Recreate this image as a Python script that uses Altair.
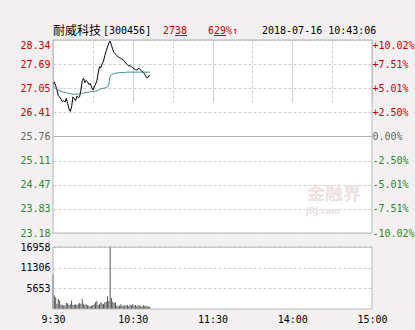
import json
import altair as alt
import pandas as pd

# ---------------- data ----------------
minutes = list(range(74))  # minutes after 9:30
price = [27.15, 27.22, 27.12, 27.00, 26.85, 26.82, 26.76, 26.69, 26.72, 26.68,
         26.78, 26.65, 26.50, 26.43, 26.55, 26.82, 26.78, 26.72, 26.84, 26.80,
         26.82, 27.00, 27.25, 27.32, 27.20, 27.26, 27.22, 27.15, 27.18, 27.09,
         27.00, 27.08, 27.16, 27.25, 27.45, 27.63, 27.60, 27.70, 27.78, 27.92,
         28.05, 28.15, 28.26, 28.31, 28.20, 28.08, 28.00, 27.96, 27.92, 27.89,
         27.87, 27.85, 27.82, 27.80, 27.76, 27.72, 27.68, 27.64, 27.66, 27.62,
         27.60, 27.57, 27.55, 27.54, 27.57, 27.58, 27.53, 27.50, 27.48, 27.42,
         27.36, 27.32, 27.38, 27.39]
avg = [27.10, 27.07, 27.04, 27.02, 27.00, 26.99, 26.97, 26.96, 26.95, 26.94,
       26.93, 26.92, 26.91, 26.90, 26.90, 26.89, 26.89, 26.89, 26.89, 26.90,
       26.90, 26.90, 26.91, 26.92, 26.93, 26.94, 26.94, 26.95, 26.95, 26.96,
       26.96, 26.96, 26.97, 26.98, 27.00, 27.02, 27.03, 27.04, 27.05, 27.06,
       27.07, 27.09, 27.15, 27.38, 27.41, 27.43, 27.44, 27.45, 27.46, 27.46,
       27.47, 27.47, 27.47, 27.47, 27.47, 27.48, 27.48, 27.48, 27.48, 27.48,
       27.48, 27.48, 27.48, 27.48, 27.48, 27.48, 27.48, 27.48, 27.48, 27.48,
       27.48, 27.48, 27.48, 27.48]
volume = [9400, 3700, 3200, 1400, 2750, 2300, 1200, 1100, 920, 1000,
          1650, 1550, 1100, 1290, 2300, 1100, 1200, 1290, 1100, 1290,
          1660, 1400, 2770, 1500, 1100, 1290, 1000, 920, 740, 920,
          1100, 1290, 1840, 2210, 1100, 1290, 1840, 1500, 1290, 1840,
          2000, 3500, 2210, 16900, 2950, 2000, 1660, 1840, 920, 740,
          920, 1290, 920, 740, 1100, 920, 1100, 740, 1200, 1000,
          1290, 920, 1100, 740, 1100, 740, 920, 650, 1100, 800,
          920, 650, 700, 600]

pre_close = 25.76
price_ticks = [28.34, 27.69, 27.05, 26.41, 25.76, 25.11, 24.47, 23.83, 23.18]
pct_labels = ["+10.02%", "+7.51%", "+5.01%", "+2.50%", "0.00%",
              "-2.50%", "-5.01%", "-7.51%", "-10.02%"]
vol_ticks = [5653, 11306, 16958]
time_ticks = [0, 30, 60, 90, 120, 150, 180, 210, 240]
time_label_pos = [0, 60, 120, 180, 240]
time_labels = ["9:30", "10:30", "11:30", "14:00", "15:00"]

title_name = "耐威科技"
title_code = "[300456]"
cur_price_txt = "2738"
cur_pct_txt = "629%↑"
stamp = "2018-07-16 10:43:06"

df = pd.DataFrame({"m": minutes, "price": price, "avg": avg, "vol": volume})
one = pd.DataFrame({"k": [0]})

# ---------------- styling ----------------
W, H = 319, 269
TOP_H = 193
VOL_TOP = 207
BG = "#f2f0f0"
RED = "#cc0000"
GREEN = "#2a8a2a"
GREY = "#666666"
GRID = "#d0d0d0"
MONO = "DejaVu Sans Mono"

label_color = {
    "condition": [
        {"test": f"datum.value > {pre_close + 0.001}", "value": RED},
        {"test": f"datum.value < {pre_close - 0.001}", "value": GREEN},
    ],
    "value": GREY,
}
label_baseline = {"condition": {"test": f"datum.value >= {max(price_ticks) - 0.001}",
                                "value": "top"}, "value": "middle"}

x_label_expr = ("indexof(%s, datum.value) >= 0 ? %s[indexof(%s, datum.value)] : ''"
                % (json.dumps(time_label_pos), json.dumps(time_labels), json.dumps(time_label_pos)))

x_enc = alt.X("m:Q",
              scale=alt.Scale(domain=[0, 240], nice=False, zero=False),
              axis=alt.Axis(values=time_ticks, labelExpr=x_label_expr, title=None,
                            grid=True, ticks=False, domain=False, labelFlush=False,
                            labelPadding=5, labelColor="#000000",
                            gridColor=GRID,
                            gridDash={"condition": {"test": "datum.value % 60 == 0", "value": []},
                                      "value": [3, 2]}))

price_scale = alt.Scale(domain=[min(price_ticks), max(price_ticks)], range=[TOP_H, 0],
                        nice=False, zero=False)

price_line = alt.Chart(df).mark_line(color="#000000", strokeWidth=1).encode(
    x=x_enc,
    y=alt.Y("price:Q", scale=price_scale,
            axis=alt.Axis(orient="left", values=price_ticks, title=None, format=".2f",
                          ticks=False, domain=False, labelPadding=3,
                          labelColor=label_color, labelBaseline=label_baseline,
                          grid=True,
                          gridColor={"condition": {"test": f"abs(datum.value - {pre_close}) < 0.001",
                                                   "value": "#b0b0b0"}, "value": GRID},
                          gridDash={"condition": {"test": f"abs(datum.value - {pre_close}) < 0.001",
                                                  "value": []}, "value": [3, 2]})),
)

pct_expr = "%s[indexof(%s, datum.value)]" % (json.dumps(pct_labels), json.dumps(price_ticks))
avg_line = alt.Chart(df).mark_line(color="#3d8b8b", strokeWidth=1).encode(
    x=x_enc,
    y=alt.Y("avg:Q", scale=price_scale,
            axis=alt.Axis(orient="right", values=price_ticks, title=None, labelExpr=pct_expr,
                          ticks=False, domain=False, labelPadding=0, grid=False,
                          labelColor=label_color, labelBaseline=label_baseline)),
)

vol_bars = alt.Chart(df).mark_rule(color="#555555", strokeWidth=1).encode(
    x=x_enc,
    y=alt.Y("vol:Q",
            scale=alt.Scale(domain=[0, max(vol_ticks)], range=[H, VOL_TOP], nice=False, zero=True),
            axis=alt.Axis(orient="left", values=vol_ticks, title=None, format="d",
                          ticks=False, domain=False, labelPadding=3, labelColor="#000000",
                          grid=True, gridColor=GRID, gridDash=[3, 2])),
    y2=alt.datum(0),
)

gap = alt.Chart(one).mark_rect(fill=BG).encode(
    x=alt.value(-1), x2=alt.value(W + 1), y=alt.value(TOP_H + 0.5), y2=alt.value(VOL_TOP - 0.5))

frame_top = alt.Chart(one).mark_rect(fillOpacity=0, stroke="#b4b4b4", strokeWidth=1).encode(
    x=alt.value(0), x2=alt.value(W), y=alt.value(0), y2=alt.value(TOP_H))
frame_vol = alt.Chart(one).mark_rect(fillOpacity=0, stroke="#b4b4b4", strokeWidth=1).encode(
    x=alt.value(0), x2=alt.value(W), y=alt.value(VOL_TOP), y2=alt.value(H))

def txt(s, x, color="#000000", font=MONO, size=10, weight="normal", y=-9, opacity=1.0, align="left"):
    return alt.Chart(one).mark_text(text=s, font=font, fontSize=size, fontWeight=weight,
                                    color=color, align=align, baseline="middle",
                                    opacity=opacity).encode(x=alt.value(x), y=alt.value(y))

def uline(x1, x2, color=RED):
    return alt.Chart(one).mark_rule(color=color, strokeWidth=1).encode(
        x=alt.value(x1), x2=alt.value(x2), y=alt.value(-4.5))

titles = [
    txt(title_name, 0, font="Noto Sans CJK SC", size=12),
    txt(title_code, 50),
    txt(cur_price_txt, 110, color=RED),
    uline(122, 134),
    txt(cur_pct_txt, 155, color=RED),
    uline(161, 173),
    txt(stamp, 209),
    txt("金融界", 281, color="#ebe1e1", font="Noto Sans CJK SC", size=18, weight="bold",
        y=155, align="center"),
    txt("JRJ.com", 270, color="#e8e2e2", font="DejaVu Sans", size=8, weight="bold",
        y=172, align="center"),
]

chart = alt.layer(
    vol_bars, price_line, avg_line, gap, frame_top, frame_vol, *titles
).resolve_scale(y="independent").properties(
    width=W, height=H,
    autosize=alt.AutoSizeParams(type="none"),
    padding={"left": 53, "top": 40, "right": 43, "bottom": 21},
    background=BG,
).configure_view(fill="white", stroke="transparent").configure_axis(
    labelFont=MONO, labelFontSize=10
)

chart.save("out.html", embed_options={"renderer": "svg", "actions": False})
